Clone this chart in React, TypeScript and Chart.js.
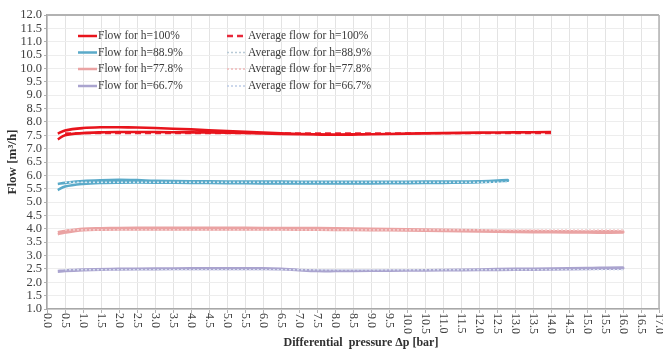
import React, { useEffect, useRef } from "react";
import { Chart, registerables } from "chart.js";

Chart.register(...registerables);

const FONT = "'Liberation Serif', 'Times New Roman', serif";

// ---- data ----
// h = 100 %
const pUp100 = [0.3, 0.5, 1, 1.5, 2, 2.5, 3, 4, 5, 6, 7, 8, 9, 10, 11, 12, 13, 14];
const qUp100 = [7.35, 7.5, 7.58, 7.61, 7.62, 7.62, 7.62, 7.61, 7.6, 7.57, 7.54, 7.53, 7.54, 7.56, 7.58, 7.6, 7.61, 7.62];
const pDown100 = [14, 13, 12, 11, 10, 9, 8, 7, 6, 5, 4, 3, 2.5, 2, 1.5, 1, 0.5, 0.3];
const qDown100 = [7.62, 7.61, 7.6, 7.58, 7.56, 7.54, 7.52, 7.55, 7.6, 7.66, 7.72, 7.77, 7.79, 7.8, 7.8, 7.77, 7.68, 7.56];
const pAvg100 = [0.5, 14];
const qAvg100 = [7.58, 7.58];

// h = 88.9 %
const pUp889 = [0.3, 0.5, 1, 1.5, 2, 3, 4, 5, 6, 7, 8, 9, 10, 11, 12, 12.8];
const qUp889 = [5.45, 5.58, 5.68, 5.72, 5.73, 5.73, 5.72, 5.71, 5.7, 5.7, 5.7, 5.7, 5.71, 5.72, 5.74, 5.8];
const pDown889 = [12.8, 12, 11, 10, 9, 8, 7, 6, 5, 4, 3, 2.5, 2, 1.5, 1, 0.5, 0.3];
const qDown889 = [5.82, 5.78, 5.77, 5.76, 5.76, 5.76, 5.76, 5.77, 5.77, 5.78, 5.8, 5.82, 5.83, 5.82, 5.79, 5.72, 5.68];
const pAvg889 = [0.5, 12.8];
const qAvg889 = [5.74, 5.74];

// h = 77.8 %
const pUp778 = [0.3, 0.5, 1, 1.5, 2, 3, 4, 5, 6, 7, 8, 9, 10, 11, 12, 13, 14, 15, 16];
const qUp778 = [3.8, 3.86, 3.95, 3.97, 3.98, 3.98, 3.98, 3.98, 3.98, 3.97, 3.96, 3.95, 3.94, 3.92, 3.9, 3.88, 3.87, 3.86, 3.86];
const pDown778 = [16, 15, 14, 13, 12, 11, 10, 9, 8, 7, 6, 5, 4, 3, 2, 1.5, 1, 0.5, 0.3];
const qDown778 = [3.9, 3.9, 3.91, 3.92, 3.94, 3.96, 3.98, 4.0, 4.02, 4.03, 4.03, 4.04, 4.04, 4.04, 4.03, 4.02, 4.0, 3.92, 3.87];
const pAvg778 = [0.5, 16];
const qAvg778 = [3.96, 3.96];

// h = 66.7 %
const pUp667 = [0.3, 0.5, 1, 1.5, 2, 3, 4, 5, 6, 6.5, 7, 7.5, 8, 9, 10, 11, 12, 13, 14, 15, 16];
const qUp667 = [2.4, 2.42, 2.45, 2.47, 2.48, 2.49, 2.5, 2.5, 2.5, 2.49, 2.45, 2.42, 2.42, 2.43, 2.44, 2.46, 2.48, 2.5, 2.51, 2.53, 2.55];
const pDown667 = [16, 15, 14, 13, 12, 11, 10, 9, 8, 7, 6.5, 6, 5, 4, 3, 2, 1, 0.5, 0.3];
const qDown667 = [2.52, 2.5, 2.48, 2.47, 2.46, 2.45, 2.44, 2.43, 2.43, 2.46, 2.5, 2.52, 2.52, 2.52, 2.51, 2.5, 2.48, 2.44, 2.42];
const pAvg667 = [0.5, 16];
const qAvg667 = [2.47, 2.47];

const seriesLabels = ["Flow for h=100%", "Flow for h=88.9%", "Flow for h=77.8%", "Flow for h=66.7%"];
const avgLabels = ["Average flow for h=100%", "Average flow for h=88.9%", "Average flow for h=77.8%", "Average flow for h=66.7%"];
const flowColors = ["#e8141c", "#5aaac9", "#eaa3a3", "#aaa4cf"];
const avgColors = ["#e8283a", "#d6e8f2", "#f6d2d2", "#d6def0"];
const avgLegendColors = ["#e8283a", "#b8cad6", "#efb8b8", "#bccbe6"];

const xTitle = "Differential  pressure Δp [bar]";
const yTitle = "Flow [m³/h]";

function pts(xs: number[], ys: number[]) {
  return xs.map((x, i) => ({ x, y: ys[i] }));
}

const loops = [
  [...pts(pUp100, qUp100), ...pts(pDown100, qDown100)],
  [...pts(pUp889, qUp889), ...pts(pDown889, qDown889)],
  [...pts(pUp778, qUp778), ...pts(pDown778, qDown778)],
  [...pts(pUp667, qUp667), ...pts(pDown667, qDown667)],
];
const avgs = [
  pts(pAvg100, qAvg100),
  pts(pAvg889, qAvg889),
  pts(pAvg778, qAvg778),
  pts(pAvg667, qAvg667),
];

const customPlugin = {
  id: "custom",
  beforeDatasetsDraw(chart: any) {
    const { ctx, chartArea: ca } = chart;
    ctx.save();
    ctx.strokeStyle = "#b2b2b2";
    ctx.lineWidth = 2;
    ctx.beginPath();
    ctx.moveTo(ca.left, ca.top);
    ctx.lineTo(ca.right, ca.top);
    ctx.stroke();
    ctx.lineWidth = 1.5;
    ctx.beginPath();
    ctx.moveTo(ca.right, ca.top);
    ctx.lineTo(ca.right, ca.bottom);
    ctx.stroke();
    ctx.restore();
  },
  afterDraw(chart: any) {
    const { ctx, chartArea: ca } = chart;
    const xs = chart.scales.x;
    ctx.save();
    // rotated x tick labels (clockwise)
    ctx.font = `12px ${FONT}`;
    ctx.fillStyle = "#404040";
    ctx.textAlign = "left";
    ctx.textBaseline = "middle";
    xs.ticks.forEach((t: any) => {
      const px = xs.getPixelForValue(t.value);
      ctx.save();
      ctx.translate(px, ca.bottom + 4);
      ctx.rotate(Math.PI / 2);
      ctx.fillText(Number(t.value).toFixed(1), 0, 0);
      ctx.restore();
    });
    // x title
    ctx.font = `bold 12px ${FONT}`;
    ctx.textAlign = "center";
    ctx.textBaseline = "middle";
    ctx.fillStyle = "#303030";
    ctx.fillText(xTitle, 361, 343);

    // legend (two columns)
    ctx.font = `11.5px ${FONT}`;
    ctx.textAlign = "left";
    const rowsY = [36, 52.5, 69, 86];
    const cols = [
      { x0: 78, x1: 97, tx: 98 },
      { x0: 227, x1: 247, tx: 248 },
    ];
    const ds = chart.data.datasets;
    for (let c = 0; c < 2; c++) {
      for (let r = 0; r < 4; r++) {
        const d = ds.find((e: any) => e.label === (c === 0 ? seriesLabels[r] : avgLabels[r]));
        if (!d) continue;
        const y = rowsY[r];
        ctx.save();
        ctx.strokeStyle = d.legendColor || d.borderColor;
        ctx.lineWidth = c === 1 && r > 0 ? 1.5 : 2.5;
        ctx.setLineDash(d.legendDash || d.borderDash || []);
        ctx.beginPath();
        ctx.moveTo(cols[c].x0, y);
        ctx.lineTo(cols[c].x1, y);
        ctx.stroke();
        ctx.restore();
        ctx.fillStyle = "#3a3a3a";
        ctx.fillText(d.label, cols[c].tx, y);
      }
    }
    ctx.restore();
  },
};

export default function App() {
  const ref = useRef<HTMLCanvasElement | null>(null);
  useEffect(() => {
    document.body.style.margin = "0";
    if (!ref.current) return;
    const datasets: any[] = [];
    avgs.forEach((d, i) => {
      datasets.push({
        label: avgLabels[i],
        data: d,
        borderColor: avgColors[i],
        legendColor: avgLegendColors[i],
        borderWidth: i === 0 ? 2 : 1.5,
        borderDash: i === 0 ? [6, 4] : [2, 2],
        legendDash: i === 0 ? [6, 4] : [2, 2],
        pointRadius: 0,
        fill: false,
        tension: 0,
        order: i === 0 ? 5 : 0,
      });
    });
    loops.forEach((d, i) => {
      datasets.push({
        label: seriesLabels[i],
        data: d,
        borderColor: flowColors[i],
        borderWidth: 2.6,
        pointRadius: 0,
        fill: false,
        tension: 0.35,
        order: 1,
      });
    });
    const chart = new Chart(ref.current, {
      type: "line",
      data: { datasets },
      options: {
        animation: false,
        responsive: false,
        devicePixelRatio: 1,
        layout: { padding: { top: 15, right: 4, left: 0, bottom: 0 } },
        plugins: { legend: { display: false }, tooltip: { enabled: false } },
        scales: {
          x: {
            type: "linear",
            min: 0,
            max: 17,
            afterFit: (s: any) => {
              s.height = 43;
            },
            ticks: { stepSize: 0.5, maxTicksLimit: 100, display: false },
            grid: { color: "#e3e3e3", lineWidth: 1, tickLength: 4, drawTicks: true, tickColor: "#b0b0b0" },
            border: { display: true, color: "#a8a8a8", width: 1.5 },
          },
          y: {
            type: "linear",
            min: 1,
            max: 12,
            afterFit: (s: any) => {
              s.width = 47;
            },
            ticks: {
              stepSize: 0.5,
              maxTicksLimit: 100,
              autoSkip: false,
              padding: 2,
              color: "#404040",
              font: { family: FONT, size: 12.5 },
              callback: (v: any) => Number(v).toFixed(1),
            },
            grid: { color: "#ededed", lineWidth: 1, tickLength: 3, tickColor: "#b0b0b0" },
            border: { display: true, color: "#a8a8a8", width: 1.5 },
            title: {
              display: true,
              text: yTitle,
              color: "#303030",
              font: { family: FONT, size: 13, weight: "bold" },
              padding: { top: 5, bottom: 0 },
            },
          },
        },
      },
      plugins: [customPlugin],
    } as any);
    return () => chart.destroy();
  }, []);
  return (
    <div style={{ width: 663, height: 352 }}>
      <canvas ref={ref} width={663} height={352} style={{ display: "block" }} />
    </div>
  );
}
